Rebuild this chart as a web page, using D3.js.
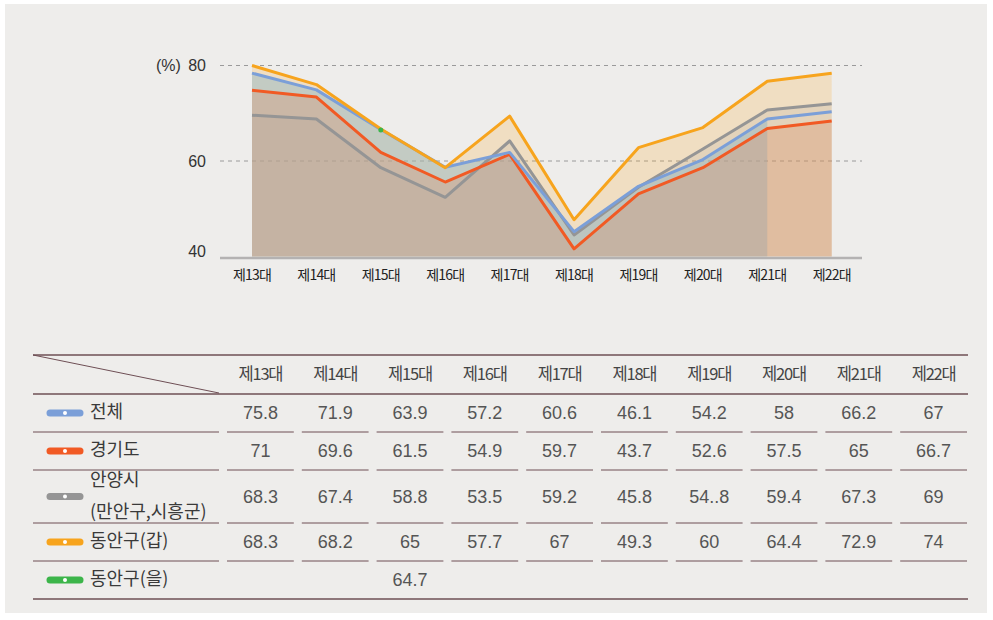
<!DOCTYPE html>
<html>
<head>
<meta charset="utf-8">
<script src="https://cdn.jsdelivr.net/npm/d3@7"></script>
<style>
  body { margin: 0; background: #fff; }
  text { font-family: "Liberation Sans", Arial, "Noto Sans CJK KR", sans-serif; }
  .kr { font-family: "Noto Sans CJK KR", sans-serif; }
</style>
</head>
<body>
<script>
// categories (elections)
var categories = ["제13대", "제14대", "제15대", "제16대", "제17대", "제18대", "제19대", "제20대", "제21대", "제22대"];

// values as plotted in the chart
var total    = [78.4, 74.9, 66.6, 58.7, 61.8, 45.2, 54.7, 60.3, 68.8, 70.3];
var gyeonggi = [74.8, 73.4, 61.8, 55.6, 61.4, 41.6, 53.1, 58.6, 66.8, 68.4];
var anyang   = [69.6, 68.8, 58.6, 52.4, 64.2, 44.5, 54.5, 62.5, 70.7, 72.0];
var donganA  = [80.0, 76.0, 66.7, 58.6, 69.4, 47.7, 62.8, 67.0, 76.7, 78.4];
var donganB  = [null, null, 66.5, null, null, null, null, null, null, null];

// values printed in the table
var tTotal    = ["75.8", "71.9", "63.9", "57.2", "60.6", "46.1", "54.2", "58", "66.2", "67"];
var tGyeonggi = ["71", "69.6", "61.5", "54.9", "59.7", "43.7", "52.6", "57.5", "65", "66.7"];
var tAnyang   = ["68.3", "67.4", "58.8", "53.5", "59.2", "45.8", "54..8", "59.4", "67.3", "69"];
var tDonganA  = ["68.3", "68.2", "65", "57.7", "67", "49.3", "60", "64.4", "72.9", "74"];
var tDonganB  = ["", "", "64.7", "", "", "", "", "", "", ""];

var yTicks = [40, 60, 80];

var width = 993, height = 620;

var svg = d3.select("body").append("svg")
  .attr("width", width)
  .attr("height", height);

svg.append("rect")
  .attr("x", 5).attr("y", 4)
  .attr("width", 982).attr("height", 609)
  .attr("fill", "#eeedeb");

var x = d3.scalePoint().domain(categories).range([252, 831.7]);
var y = d3.scaleLinear().domain([40, 80]).range([256.5, 65.5]);

// grid
svg.selectAll(".grid").data([60, 80]).enter().append("line")
  .attr("x1", 220).attr("x2", 862)
  .attr("y1", function(d){ return y(d); })
  .attr("y2", function(d){ return y(d); })
  .attr("stroke", "#9a9a9a")
  .attr("stroke-dasharray", "4,4");

// series: draw order for areas
var series = [
  {name: "동안구(갑)", vals: donganA, color: "#f7a41d", fill: "#f8a61e", op: 0.2, end: 10},
  {name: "안양시", vals: anyang, color: "#959595", fill: "#8c8c91", op: 0.13, end: 10},
  {name: "전체", vals: total, color: "#7b9fd8", fill: "#96b7c3", op: 0.5, end: 9},
  {name: "경기도", vals: gyeonggi, color: "#f15a24", fill: "#dc8c64", op: 0.3, end: 10}
];

var area = d3.area()
  .x(function(d){ return x(d.c); })
  .y0(y(40))
  .y1(function(d){ return y(d.v); });

series.forEach(function(s){
  var pts = s.vals.map(function(v, i){ return {c: categories[i], v: v}; }).slice(0, s.end);
  svg.append("path")
    .attr("d", area(pts))
    .attr("fill", s.fill)
    .attr("fill-opacity", s.op);
});

// baseline
svg.append("line")
  .attr("x1", 220).attr("x2", 862)
  .attr("y1", y(40) + 1.5).attr("y2", y(40) + 1.5)
  .attr("stroke", "#b4b2b2").attr("stroke-width", 2.5);

var line = d3.line()
  .defined(function(d){ return d.v != null; })
  .x(function(d){ return x(d.c); })
  .y(function(d){ return y(d.v); });

var lineOrder = [series[1], series[3], series[2], series[0]];
lineOrder.forEach(function(s){
  var pts = s.vals.map(function(v, i){ return {c: categories[i], v: v}; });
  svg.append("path")
    .attr("d", line(pts))
    .attr("fill", "none")
    .attr("stroke", s.color)
    .attr("stroke-width", 3)
    .attr("stroke-linejoin", "round");
});

// single point of 동안구(을)
svg.selectAll(".pt").data(donganB.map(function(v, i){ return {c: categories[i], v: v}; })
    .filter(function(d){ return d.v != null; }))
  .enter().append("circle")
  .attr("cx", function(d){ return x(d.c); })
  .attr("cy", function(d){ return y(d.v); })
  .attr("r", 2.5)
  .attr("fill", "#3cb54a");

// y labels
svg.selectAll(".yl").data(yTicks).enter().append("text")
  .attr("x", 206)
  .attr("y", function(d){ return Math.min(y(d), 251); })
  .attr("dy", "0.36em")
  .attr("text-anchor", "end")
  .attr("font-size", 16)
  .attr("fill", "#333")
  .text(function(d){ return d; });

svg.append("text")
  .attr("x", 156).attr("y", y(80)).attr("dy", "0.36em")
  .attr("font-size", 16).attr("fill", "#333")
  .text("(%)");

// x labels
svg.selectAll(".xl").data(categories).enter().append("text")
  .attr("class", "kr")
  .attr("x", function(d){ return x(d); })
  .attr("y", 275).attr("dy", "0.35em")
  .attr("text-anchor", "middle")
  .attr("font-size", 14)
  .attr("letter-spacing", -0.8)
  .attr("fill", "#222")
  .text(function(d){ return d; });

// ---- table ----
var rows = [
  {name: ["전체"], color: "#7b9fd8", vals: tTotal, top: 394, bot: 432},
  {name: ["경기도"], color: "#f15a24", vals: tGyeonggi, top: 432, bot: 470},
  {name: ["안양시", "(만안구,시흥군)"], color: "#959595", vals: tAnyang, top: 470, bot: 523},
  {name: ["동안구(갑)"], color: "#f7a41d", vals: tDonganA, top: 523, bot: 561},
  {name: ["동안구(을)"], color: "#3cb54a", vals: tDonganB, top: 561, bot: 599}
];

var lineCol = "#6e4f55";
var colX = d3.scaleBand().domain(categories).range([223, 971]);
var labelL = 33, labelR = 219;

// top line and diagonal
svg.append("line").attr("x1", labelL).attr("x2", 968).attr("y1", 355).attr("y2", 355)
  .attr("stroke", lineCol).attr("stroke-width", 1.4);
svg.append("line").attr("x1", labelL).attr("x2", labelR).attr("y1", 355).attr("y2", 393)
  .attr("stroke", lineCol).attr("stroke-width", 1);

// header text
svg.selectAll(".th").data(categories).enter().append("text")
  .attr("class", "kr")
  .attr("x", function(d){ return colX(d) + colX.bandwidth() / 2; })
  .attr("y", 374).attr("dy", "0.35em")
  .attr("text-anchor", "middle")
  .attr("font-size", 16.5)
  .attr("letter-spacing", -1.2)
  .attr("fill", "#444")
  .text(function(d){ return d; });

// header bottom line
svg.append("line").attr("x1", labelL).attr("x2", 968).attr("y1", 394).attr("y2", 394)
  .attr("stroke", lineCol).attr("stroke-width", 1.4);

rows.forEach(function(r, ri){
  var cy = (r.top + r.bot) / 2;
  var g = svg.append("g");
  // legend pill
  g.append("line").attr("x1", 50).attr("x2", 80).attr("y1", cy).attr("y2", cy)
    .attr("stroke", r.color).attr("stroke-width", 7).attr("stroke-linecap", "round");
  g.append("circle").attr("cx", 65).attr("cy", cy).attr("r", 2).attr("fill", "#fff");
  // name
  r.name.forEach(function(n, k){
    g.append("text").attr("class", "kr")
      .attr("x", 90)
      .attr("y", cy - 1 + (k - (r.name.length - 1) / 2) * 32)
      .attr("dy", "0.35em")
      .attr("font-size", 18)
      .attr("fill", "#3a3a3a")
      .text(n);
  });
  // values
  g.selectAll(".v").data(r.vals).enter().append("text")
    .attr("x", function(d, i){ return colX(categories[i]) + colX.bandwidth() / 2; })
    .attr("y", cy).attr("dy", "0.36em")
    .attr("text-anchor", "middle")
    .attr("font-size", 18)
    .attr("fill", "#555")
    .text(function(d){ return d; });
  // separators
  if (ri < rows.length - 1) {
    g.append("line").attr("x1", labelL).attr("x2", labelR).attr("y1", r.bot).attr("y2", r.bot)
      .attr("stroke", lineCol).attr("stroke-width", 1);
    g.selectAll(".sep").data(categories).enter().append("line")
      .attr("x1", function(d){ return colX(d) + 4; })
      .attr("x2", function(d){ return colX(d) + colX.bandwidth() - 4; })
      .attr("y1", r.bot).attr("y2", r.bot)
      .attr("stroke", lineCol).attr("stroke-width", 1);
  }
});

// bottom line
svg.append("line").attr("x1", labelL).attr("x2", 968).attr("y1", 599).attr("y2", 599)
  .attr("stroke", lineCol).attr("stroke-width", 1.6);
</script>
</body>
</html>
